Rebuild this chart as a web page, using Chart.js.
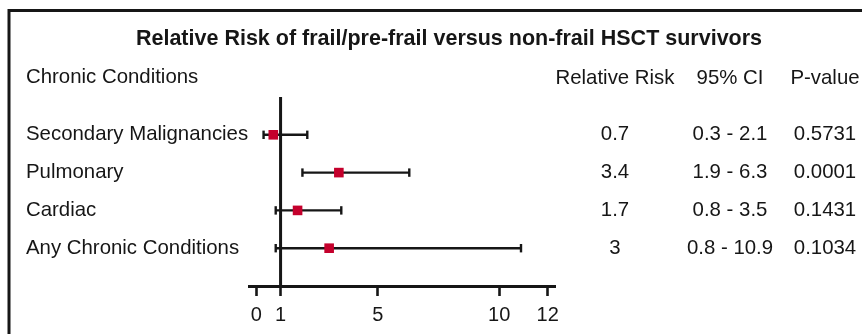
<!DOCTYPE html>
<html>
<head>
<meta charset="utf-8">
<script src="https://cdn.jsdelivr.net/npm/chart.js@4"></script>
<style>
  html, body { margin: 0; padding: 0; background: #fff; }
  #wrap { position: relative; width: 862px; height: 334px; }
</style>
</head>
<body>
<div id="wrap"><canvas id="c" width="862" height="334"></canvas></div>
<script>
// Forest plot data
const conditions = ['Secondary Malignancies', 'Pulmonary', 'Cardiac', 'Any Chronic Conditions'];
const relativeRisk = [0.7, 3.4, 1.7, 3];
const ciLower = [0.3, 1.9, 0.8, 0.8];
const ciUpper = [2.1, 6.3, 3.5, 10.9];
const pValues = ['0.5731', '0.0001', '0.1431', '0.1034'];
const xTicks = [0, 1, 5, 10, 12];
const referenceValue = 1;

const titleText = 'Relative Risk of frail/pre-frail versus non-frail HSCT survivors';
const rowHeader = 'Chronic Conditions';
const columnHeaders = ['Relative Risk', '95% CI', 'P-value'];

const FONT = '"Liberation Sans", Arial, Helvetica, sans-serif';
const INK = '#161616';
const MARK = '#c4002c';

// one line dataset per confidence interval, with vertical caps at both ends
const ciDatasets = conditions.map((name, i) => ({
  type: 'line',
  label: name + ' CI',
  data: [{ x: ciLower[i], y: i }, { x: ciUpper[i], y: i }],
  borderColor: INK,
  borderWidth: 2.4,
  pointStyle: 'line',
  pointRotation: 90,
  pointRadius: 4.2,
  pointBorderWidth: 2.4,
  pointBorderColor: INK,
  pointHoverRadius: 4.2,
  order: 2
}));

const referenceDataset = {
  type: 'line',
  label: 'reference',
  data: [{ x: referenceValue, y: -1 }, { x: referenceValue, y: 4 }],
  borderColor: INK,
  borderWidth: 3,
  pointRadius: 0,
  order: 3
};

const rrDataset = {
  type: 'scatter',
  label: 'Relative Risk',
  data: relativeRisk.map((v, i) => ({ x: v, y: i })),
  pointStyle: 'rect',
  pointRadius: 6.8,
  pointHoverRadius: 6.8,
  backgroundColor: MARK,
  borderWidth: 0,
  order: 1
};

// frame and the text table around the plot
const tablePlugin = {
  id: 'forestTable',
  beforeDraw(chart) {
    const ctx = chart.ctx;
    ctx.save();
    ctx.strokeStyle = INK;
    ctx.lineWidth = 3;
    ctx.beginPath();
    ctx.moveTo(9, 400);
    ctx.lineTo(9, 10.5);
    ctx.lineTo(900, 10.5);
    ctx.stroke();
    ctx.restore();
  },
  afterDraw(chart) {
    const ctx = chart.ctx;
    const y = chart.scales.y;
    const colX = [615, 730, 825];
    ctx.save();
    ctx.fillStyle = INK;
    ctx.textBaseline = 'middle';

    ctx.font = 'bold 21.5px ' + FONT;
    ctx.textAlign = 'center';
    ctx.fillText(titleText, 449, 39);

    ctx.font = '20.4px ' + FONT;
    ctx.textAlign = 'left';
    ctx.fillText(rowHeader, 26, 77);
    ctx.textAlign = 'center';
    columnHeaders.forEach((h, k) => ctx.fillText(h, colX[k], 78));

    conditions.forEach((name, i) => {
      const py = y.getPixelForValue(i);
      ctx.textAlign = 'left';
      ctx.fillText(name, 26, py);
      ctx.textAlign = 'center';
      ctx.fillText(String(relativeRisk[i]), colX[0], py);
      ctx.fillText(ciLower[i] + ' - ' + ciUpper[i], colX[1], py);
      ctx.fillText(pValues[i], colX[2], py);
    });
    ctx.restore();
  }
};

new Chart(document.getElementById('c'), {
  data: { datasets: [rrDataset, ...ciDatasets, referenceDataset] },
  options: {
    responsive: false,
    animation: false,
    devicePixelRatio: 1,
    layout: { padding: { left: 249, right: 307, top: 97, bottom: 0 } },
    plugins: { legend: { display: false }, tooltip: { enabled: false }, title: { display: false } },
    scales: {
      x: {
        type: 'linear',
        min: -0.3,
        max: 12.3,
        afterBuildTicks: s => { s.ticks = xTicks.map(v => ({ value: v })); },
        afterFit: s => { s.height = 48; },
        grid: { drawOnChartArea: false, tickLength: 10, tickWidth: 2.6, tickColor: INK },
        border: { color: INK, width: 3 },
        ticks: { autoSkip: false, maxRotation: 0, color: INK, padding: 7, font: { family: FONT, size: 20 } }
      },
      y: {
        type: 'linear',
        min: -1,
        max: 4,
        reverse: true,
        display: false
      }
    }
  },
  plugins: [tablePlugin]
});
</script>
</body>
</html>
